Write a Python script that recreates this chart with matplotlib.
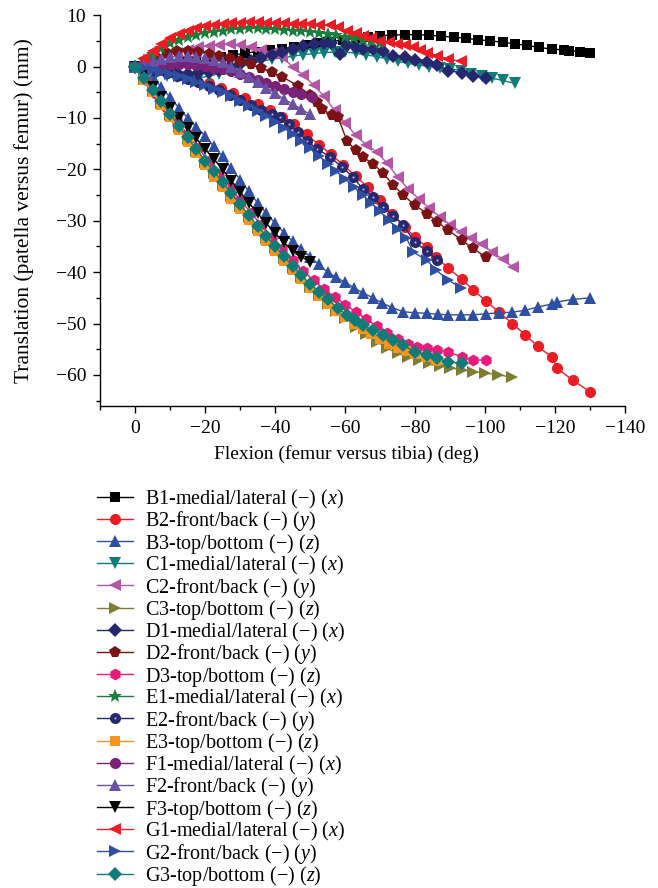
import matplotlib
matplotlib.use('Agg')
import matplotlib.pyplot as plt
from matplotlib.ticker import MultipleLocator, FuncFormatter
from matplotlib.legend_handler import HandlerTuple

plt.rcParams['font.family'] = ['Liberation Serif', 'DejaVu Serif']
plt.rcParams['mathtext.fontset'] = 'custom'
plt.rcParams['mathtext.it'] = 'Liberation Serif:italic'
plt.rcParams['mathtext.rm'] = 'Liberation Serif'

# ---- data ----
B1_x = [0, -3.5, -7, -10.5, -14, -17.5, -21, -24.5, -28, -31.5, -35, -38.5, -42, -45.5, -49, -52.5, -56, -59.5,
        -63, -66.5, -70, -73.5, -77, -80.5, -84, -87.5, -91, -94.5, -98, -101.5, -105, -108.5, -112, -115.5,
        -119, -122.5, -124, -127, -130]
B1_y = [0, 0.15, 0.35, 0.55, 0.8, 1.0, 1.3, 1.8, 2.2, 2.6, 2.9, 3.2, 3.5, 3.8, 4.1, 4.5, 4.8, 5.2,
        5.5, 5.8, 6.0, 6.1, 6.2, 6.2, 6.1, 5.9, 5.7, 5.5, 5.2, 5.0, 4.7, 4.4, 4.1, 3.7,
        3.4, 3.2, 3.1, 2.9, 2.7]

B2_x = [0, -3.5, -7, -10.5, -14, -17.5, -21, -24.5, -28, -31.5, -35, -38.5, -42, -45.5, -49, -52.5, -56, -59.5,
        -63, -66.5, -70, -73.5, -77, -80, -83.3, -86, -89.4, -93.4, -96.6, -100.3, -104, -107.8, -111.5, -115,
        -119, -120.6, -125, -130]
B2_y = [0, -0.2, -0.6, -1.1, -1.8, -2.6, -3.3, -4.2, -5.2, -6.2, -7.3, -8.5, -9.8, -11.2, -13.2, -15.2, -17.1, -19.2,
        -21.3, -23.5, -26, -28.6, -31.2, -33.2, -35.1, -37, -39.2, -41.4, -43.5, -45.6, -47.8, -50, -52.2, -54.4,
        -56.5, -58.7, -61, -63.3]

B3_x = [0, -2.5, -5, -7.5, -10, -12.5, -15, -17.5, -20, -22.5, -25, -27.5, -30, -32.5, -35, -37.5, -40, -42.5,
        -45, -47.5, -50, -52.5, -55, -57.5, -60, -62.5, -65, -68, -70.5, -73.5, -76.6, -80, -83.4, -86.5, -89.5,
        -93, -96.6, -100.3, -104, -107.8, -111.5, -115, -119, -120.6, -125, -130]
B3_y = [0, -0.8, -2, -4, -6, -8, -10, -11.7, -13.5, -15.5, -17.5, -19.8, -22, -24.3, -26.5, -28.5, -30.5, -32.3,
        -34, -35.5, -37, -38.5, -40, -41, -42, -43, -44, -45, -46, -46.9, -47.7, -47.9, -48, -48.2, -48.3,
        -48.3, -48.3, -48.1, -47.9, -47.8, -47.4, -46.8, -46.2, -45.8, -45.3, -45]

C1_x = [0, -3, -6, -9, -12, -15, -18, -21, -24, -27, -30, -33, -36, -39, -42, -45, -48, -51, -54, -57, -60,
        -63, -66, -69, -72, -75, -78, -81, -84, -87, -90, -93, -96, -99, -102, -105, -108.5]
C1_y = [0, -0.6, -1.2, -1.8, -2.1, -2.3, -2.2, -1.9, -1.4, -0.8, -0.1, 0.5, 1.0, 1.4, 1.7, 2.0, 2.3, 2.5, 2.7,
        2.8, 2.8, 2.6, 2.3, 1.9, 1.5, 1.0, 0.6, 0.3, 0, -0.2, -0.4, -0.8, -1.4, -1.9, -2.3, -2.7, -3.3]

C2_x = [0, -3, -6, -9, -12, -15, -18, -21, -24, -27, -30, -33, -36, -39, -42, -45, -48, -51, -54, -57, -60,
        -63, -66, -69, -72, -75, -78, -81, -84, -87, -90, -93, -96, -99, -102, -105, -108]
C2_y = [0, 0.6, 1.3, 2.0, 2.7, 3.2, 3.7, 4.0, 4.2, 4.3, 4.2, 3.8, 3.3, 2.7, 1.8, 0.0, -1.6, -3.6, -5.8, -8.5,
        -11, -13.3, -15.2, -16.6, -18.8, -21.5, -23.8, -25.7, -27.5, -29.2, -30.8, -32.2, -33.4, -34.6, -36,
        -37.5, -39]

C3_x = [0, -2.5, -5, -7.5, -10, -12.5, -15, -17.5, -20, -22.5, -25, -27.5, -30, -32.5, -35, -37.5, -40, -42.5,
        -45, -47.5, -50, -52.5, -55, -57.5, -60, -63, -66, -69, -72, -75, -78, -81, -84, -87, -90, -93.4, -96.6,
        -100, -103.7, -107.8]
C3_y = [0, -2.4, -4.8, -7.1, -9.5, -11.8, -14.1, -16.4, -18.6, -20.8, -23, -25.1, -27.2, -29.3, -31.4, -33.4,
        -35.4, -37.3, -39.2, -41, -42.8, -44.5, -46.1, -47.6, -49, -50.6, -52.1, -53.5, -54.8, -55.8, -56.5,
        -57.1, -57.7, -58.2, -58.6, -59, -59.4, -59.6, -60, -60.4]

D1_x = [0, -3, -6, -9, -12, -15, -18, -21, -24, -27, -30, -33, -36, -39, -42, -45, -48, -51, -54, -56, -58.5,
        -60.5, -63, -65, -68, -70.8, -73.8, -77, -80, -83.4, -86.3, -89.4, -93.4, -96.6, -100.3]
D1_y = [0, -0.4, -0.8, -1.1, -1.3, -1.4, -1.3, -1.0, -0.6, -0.1, 0.4, 1.0, 1.6, 2.2, 2.8, 3.4, 3.9, 4.3, 4.5,
        4.6, 2.5, 4.1, 3.7, 3.5, 3.5, 3.1, 2.1, 1.8, 1.2, 0.8, 0.2, -0.8, -1.2, -1.9, -2.3]

D2_x = [0, -3, -6, -9, -12, -15, -18, -21, -24, -27, -30, -33, -36, -39, -42, -46.5, -50, -52, -53.4, -56.2,
        -58, -60.5, -63, -65, -68, -70.8, -73.8, -76.6, -80, -83.4, -86.3, -89.4, -93.4, -96.6, -100.3]
D2_y = [0, 1.0, 1.9, 2.6, 3.0, 3.0, 2.8, 2.5, 2.1, 1.6, 1.0, 0.4, -0.3, -1.1, -2.0, -3.7, -5.6, -7, -8.2, -9.5,
        -9.9, -14.4, -16.3, -17.6, -18.9, -20.7, -23.1, -25, -27, -28.6, -30.2, -31.8, -33.8, -35.4, -37.1]

D3_x = [0, -3, -6, -9, -12, -15, -18, -21, -24, -27, -30, -33, -36, -39, -42, -45, -48, -51, -54, -57, -60,
        -63, -66, -69, -72, -75, -78, -80.5, -83.4, -86.3, -89.4, -93.4, -96.6, -100.3]
D3_y = [0, -2.6, -5.3, -8, -10.6, -13.2, -15.8, -18.4, -20.9, -23.4, -25.9, -28.4, -30.8, -33.2, -35.5, -37.7,
        -39.8, -41.6, -43.3, -44.8, -46.3, -47.7, -49.1, -50.5, -51.8, -53, -54, -54.5, -54.8, -55.1, -55.5,
        -56.5, -57.1, -57.1]

E1_x = [0, -2.5, -5, -7.5, -10, -12.5, -15, -17.5, -20, -22.5, -25, -27.5, -30, -32.5, -35, -37.5, -40, -42.5,
        -45, -47.5, -50, -52.5, -55, -57.5, -60, -62.5, -65, -67.5, -70]
E1_y = [0, 1.3, 2.5, 3.6, 4.5, 5.2, 5.8, 6.2, 6.5, 6.8, 7.0, 7.2, 7.3, 7.4, 7.4, 7.3, 7.2, 7.1, 7.0, 6.9, 6.8,
        6.6, 6.3, 6.1, 5.8, 5.5, 5.2, 4.9, 4.6]

E2_x = [0, -3, -6, -9, -12, -15, -18, -21, -24, -27, -30, -33, -36, -39, -41.4, -44, -46.5, -49, -52, -55.7,
        -59, -62.3, -65, -68, -70.8, -73.8, -76.6, -80, -83.4, -86.3]
E2_y = [0, -0.3, -0.8, -1.3, -1.9, -2.5, -3.1, -3.8, -4.6, -5.5, -6.5, -7.5, -8.4, -9.2, -9.8, -11.2, -12.8,
        -14.4, -16, -17.6, -19.5, -21.5, -23.8, -25.4, -27.3, -29, -30.9, -34.2, -35.9, -37.7]

E3_x = [0, -2.5, -5, -7.5, -10, -12.5, -15, -17.5, -20, -22.5, -25, -27.5, -30, -32.5, -35, -37.5, -40, -42.5,
        -45, -47.5, -50, -52.5, -55, -57.5, -60, -62.5, -65, -67.5, -70, -72.5, -75, -77.5, -80, -83, -86]
E3_y = [0, -2.6, -5, -7.4, -9.9, -12.3, -14.6, -16.9, -19.2, -21.4, -23.5, -25.7, -27.8, -29.9, -32, -34, -35.9,
        -37.8, -39.6, -41.3, -43, -44.6, -46.1, -47.5, -48.8, -50, -51.1, -52.1, -53, -53.9, -54.7, -55.4, -56,
        -56.6, -57.2]

F1_x = [0, -2.5, -5, -7.5, -10, -12.5, -15, -17.5, -20, -22.5, -25, -27.5, -30, -32.5, -35, -37.5, -40, -42.5,
        -45, -47.5, -50.5]
F1_y = [0, 0.2, 0.3, 0.4, 0.5, 0.5, 0.4, 0.3, 0.1, -0.2, -0.5, -0.9, -1.4, -2.0, -2.6, -3.2, -3.8, -4.4, -4.9,
        -5.4, -6]

F2_x = [0, -2.5, -5, -7.5, -10, -12.5, -15, -17.5, -20, -22.5, -25, -27.5, -30, -32.5, -35, -37.5, -40, -42.5,
        -45, -47.5, -50]
F2_y = [0, 0.5, 1, 1.4, 1.8, 2, 2, 1.9, 1.7, 1.3, 0.8, 0, -1, -2, -3, -4.1, -5.2, -6.3, -7.3, -8.3, -9.3]

F3_x = [0, -2.5, -5, -7.5, -10, -12.5, -15, -17.5, -20, -22.5, -25, -27.5, -30, -32.5, -35, -37.5, -40, -42.5,
        -45, -47.5, -50]
F3_y = [0, -1.9, -3.9, -6, -8, -10, -12, -14, -16, -18, -20, -22.2, -24.4, -26.5, -28.5, -30.5, -32.4, -34.2,
        -35.8, -37, -38]

G1_x = [0, -2.5, -5, -7.5, -10, -12.5, -15, -17.5, -20, -22.5, -25, -27.5, -30, -32.5, -35, -37.5, -40, -42.5,
        -45, -47.5, -50, -52.5, -55.7, -58, -60.5, -63, -65, -67.5, -70, -72.5, -74.8, -77, -79.5, -81.5, -83.4,
        -86.3, -89.4, -93]
G1_y = [0, 1.6, 3, 4.3, 5.5, 6.3, 7, 7.5, 7.8, 8, 8.2, 8.4, 8.5, 8.6, 8.6, 8.5, 8.5, 8.4, 8.3, 8.3, 8.2, 8.1,
        8, 7.6, 7, 6.5, 6, 5.5, 5, 4.7, 4.4, 4.1, 3.7, 3.2, 2.7, 2.1, 1.5, 1]

G2_x = [0, -2.5, -5, -7.5, -10, -12.5, -15, -17.5, -20, -22.5, -25, -27.5, -30, -32.5, -35, -37.5, -40, -42.5,
        -45, -47.5, -50, -52.5, -55, -57.5, -60, -62.5, -65, -67.5, -70, -72.5, -75, -77.5, -79.5, -83.4, -86,
        -89.4, -93]
G2_y = [0, -0.3, -0.6, -1.0, -1.4, -1.9, -2.4, -3, -3.6, -4.3, -5, -5.8, -6.7, -7.6, -8.6, -9.6, -10.7, -11.9,
        -13.2, -14.5, -15.9, -17.4, -18.9, -20.4, -21.9, -23.4, -25, -26.6, -28.2, -29.9, -31.6, -33.3, -36.1,
        -37.7, -39.6, -41.5, -43]

G3_x = [0, -2.5, -5, -7.5, -10, -12.5, -15, -17.5, -20, -22.5, -25, -27.5, -30, -32.5, -35, -37.5, -40, -42.5,
        -45, -47.5, -50, -52.5, -55, -58, -60.5, -62.8, -65, -68, -70.8, -73.8, -76.6, -80, -83.4, -86.3, -89.4,
        -93.4]
G3_y = [0, -2.3, -4.5, -6.8, -9.2, -11.5, -13.8, -16, -18.3, -20.4, -22.5, -24.7, -26.8, -28.9, -31, -33, -35,
        -36.9, -38.8, -40.6, -42.3, -43.8, -45.3, -47, -48.3, -49.3, -50.3, -51.3, -52.2, -53.2, -54.2, -55.5,
        -56.1, -56.7, -57.5, -57.7]

labels = [
    'B1-medial/lateral (−) ($x$)', 'B2-front/back (−) ($y$)', 'B3-top/bottom (−) ($z$)',
    'C1-medial/lateral (−) ($x$)', 'C2-front/back (−) ($y$)', 'C3-top/bottom (−) ($z$)',
    'D1-medial/lateral (−) ($x$)', 'D2-front/back (−) ($y$)', 'D3-top/bottom (−) ($z$)',
    'E1-medial/lateral (−) ($x$)', 'E2-front/back (−) ($y$)', 'E3-top/bottom (−) ($z$)',
    'F1-medial/lateral (−) ($x$)', 'F2-front/back (−) ($y$)', 'F3-top/bottom (−) ($z$)',
    'G1-medial/lateral (−) ($x$)', 'G2-front/back (−) ($y$)', 'G3-top/bottom (−) ($z$)',
]

series = [(B1_x, B1_y), (B2_x, B2_y), (B3_x, B3_y), (C1_x, C1_y), (C2_x, C2_y), (C3_x, C3_y),
          (D1_x, D1_y), (D2_x, D2_y), (D3_x, D3_y), (E1_x, E1_y), (E2_x, E2_y), (E3_x, E3_y),
          (F1_x, F1_y), (F2_x, F2_y), (F3_x, F3_y), (G1_x, G1_y), (G2_x, G2_y), (G3_x, G3_y)]

# style: (colour, marker, markersize)
styles = [
    ('#000000', 's', 7), ('#ed1c24', 'o', 8), ('#2f4fa3', '^', 8.5),
    ('#0f7d79', 'v', 8.5), ('#b456a6', '<', 8.5), ('#7e7d33', '>', 8.5),
    ('#26286f', 'D', 7), ('#7b1315', 'p', 8.5), ('#ec1a7b', 'h', 8.5),
    ('#15803e', '*', 10.5), ('#27286f', 'o', 8), ('#f7941d', 's', 7),
    ('#7a2277', 'o', 8), ('#6a51a3', '^', 8.5), ('#000000', 'v', 8.5),
    ('#ed1c24', '<', 8.5), ('#2f4fa3', '>', 8.5), ('#117b77', 'D', 7),
]

fig = plt.figure(figsize=(6.58, 8.88), dpi=100)
ax = fig.add_axes([0.152, 0.543, 0.798, 0.440])

handles = []
for (x, y), (c, m, ms), lab in zip(series, styles, labels):
    ln, = ax.plot(x, y, color=c, marker=m, markersize=ms, markeredgewidth=0,
                  linewidth=1.0, label=lab)
    if lab.startswith('E2'):
        # small white highlight on the balls
        dot, = ax.plot(x, y, linestyle='none', marker='o', markersize=1.5,
                       color='#b8b8e0', markeredgewidth=0)
        handles.append((ln, dot))
    else:
        handles.append(ln)

ax.set_xlim(10, -140)
ax.set_ylim(-66, 10)
for s in ['top', 'right']:
    ax.spines[s].set_visible(False)
for s in ['left', 'bottom']:
    ax.spines[s].set_linewidth(1.0)

ax.xaxis.set_major_locator(MultipleLocator(20))
ax.xaxis.set_minor_locator(MultipleLocator(10))
ax.yaxis.set_major_locator(MultipleLocator(10))
ax.yaxis.set_minor_locator(MultipleLocator(5))
fmt = FuncFormatter(lambda v, p: ('−%d' % abs(v)) if v < 0 else '%d' % v)
ax.xaxis.set_major_formatter(fmt)
ax.yaxis.set_major_formatter(fmt)
ax.tick_params(which='major', direction='out', length=5, width=1, labelsize=14, pad=5)
ax.tick_params(which='minor', direction='out', length=3, width=1)

ax.set_xlabel('Flexion (femur versus tibia) (deg)', fontsize=14)
ax.set_ylabel('Translation (patella versus femur) (mm)', fontsize=15.5)
ax.xaxis.set_label_coords(0.469, -0.10)
ax.yaxis.set_label_coords(-0.125, 0.5)

fig.legend(handles, labels, loc='upper left', bbox_to_anchor=(0.148, 0.451),
           frameon=False, fontsize=14.5, labelspacing=-0.075, handlelength=1.75,
           handletextpad=0.6, borderpad=0, borderaxespad=0,
           handler_map={tuple: HandlerTuple(ndivide=1)})

fig.savefig('out.png', dpi=100)
